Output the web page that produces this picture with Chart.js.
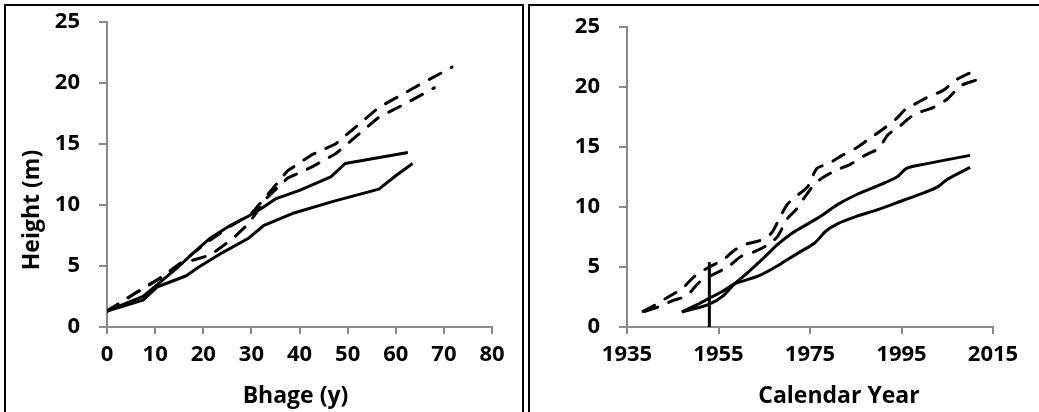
<!DOCTYPE html>
<html>
<head>
<meta charset="utf-8">
<script src="https://cdn.jsdelivr.net/npm/chart.js@4.4.1/dist/chart.umd.min.js"></script>
<style>
  body { margin: 0; background: #fff; width: 1039px; height: 412px; overflow: hidden; position: relative; }
  canvas { position: absolute; top: 0; }
  #bhageChart { left: 0; }
  #yearChart { left: 520px; }
  .frame { position: absolute; top: 4px; height: 440px; border: 2px solid #000; border-bottom: none; box-sizing: border-box; pointer-events: none; }
  #frameLeft { left: 4px; width: 520px; }
  #frameRight { left: 528px; width: 600px; }
</style>
</head>
<body>
<canvas id="bhageChart" width="520" height="412"></canvas>
<canvas id="yearChart" width="519" height="412"></canvas>
<div class="frame" id="frameLeft"></div>
<div class="frame" id="frameRight"></div>
<script>
// left panel: height against breast height age
const bhageSolidA  = [0, 3, 7.5, 10.5, 15, 18, 21.5, 25.5, 29, 32, 35, 40, 46.5, 49.5, 62.5];
const heightSolidA = [1.3, 1.8, 2.5, 3.5, 5.0, 6.1, 7.3, 8.3, 9.0, 9.7, 10.5, 11.2, 12.3, 13.4, 14.3];
const bhageSolidB  = [0, 7.5, 10.5, 16.5, 19, 24, 29.5, 32.5, 38.5, 47, 56.5, 60, 63.5];
const heightSolidB = [1.3, 2.2, 3.3, 4.2, 4.9, 6.1, 7.3, 8.3, 9.3, 10.3, 11.3, 12.4, 13.4];
const bhageDashA   = [0, 6, 11, 15.5, 21, 25, 30, 33.5, 37.5, 42.5, 47.5, 52, 56.5, 61.5, 66.5, 71.7];
const heightDashA  = [1.3, 2.8, 4.0, 5.3, 7.0, 8.1, 9.3, 10.9, 12.8, 14.1, 15.0, 16.5, 18.0, 19.1, 20.2, 21.3];
const bhageDashB   = [0, 6, 11, 15.5, 21.5, 26, 29.5, 33, 37.5, 42.5, 47.5, 52, 56.5, 61.5, 68];
const heightDashB  = [1.3, 2.8, 4.0, 5.2, 5.9, 7.2, 8.5, 10.5, 12.2, 13.1, 14.2, 15.7, 17.2, 18.2, 19.6];

// right panel: height against calendar year
const yearSolidA   = [1947, 1950, 1953, 1956, 1958.5, 1961, 1965, 1968, 1971, 1975, 1978, 1981, 1985, 1990, 1994, 1996, 1999, 2010];
const hYearSolidA  = [1.25, 1.55, 1.9, 2.6, 3.6, 4.4, 5.8, 6.9, 7.8, 8.7, 9.4, 10.2, 11.0, 11.8, 12.5, 13.2, 13.5, 14.3];
const yearSolidB   = [1947, 1950, 1953, 1956, 1958.5, 1961, 1964, 1967, 1970, 1973, 1976, 1978.5, 1981, 1985, 1990, 1995, 2000, 2003, 2005, 2010];
const hYearSolidB  = [1.25, 1.8, 2.4, 3.0, 3.6, 3.9, 4.3, 4.9, 5.6, 6.3, 7.0, 8.0, 8.6, 9.2, 9.8, 10.5, 11.2, 11.7, 12.3, 13.3];
const yearDashA    = [1938.5, 1941, 1944, 1947, 1950, 1953, 1956, 1958.5, 1961, 1964, 1966.5, 1968, 1970, 1972, 1974.5, 1976.5, 1979, 1982, 1985, 1988, 1991, 1994, 1996, 1998, 2001, 2004, 2007, 2009, 2011.5];
const hYearDashA   = [1.3, 1.8, 2.5, 3.2, 4.3, 5.0, 5.6, 6.4, 6.9, 7.2, 7.8, 8.8, 10.2, 10.9, 11.7, 13.2, 13.6, 14.3, 14.9, 15.7, 16.5, 17.4, 18.2, 18.6, 19.2, 19.7, 20.6, 21.0, 21.4];
const yearDashB    = [1939, 1942, 1945, 1948, 1951, 1954, 1957, 1960, 1963, 1966, 1968, 1970, 1972, 1974, 1976, 1978, 1981, 1984, 1987, 1990, 1992, 1994.5, 1997, 1999, 2002, 2005, 2008, 2011.5];
const hYearDashB   = [1.3, 1.7, 2.2, 2.6, 3.8, 4.4, 5.0, 5.9, 6.3, 6.9, 7.6, 9.0, 9.8, 10.9, 11.9, 12.5, 13.1, 13.6, 14.3, 14.9, 16.0, 16.7, 17.5, 17.9, 18.3, 19.0, 20.1, 20.6];

// vertical marker in the right panel
const markerYear   = [1953, 1953];
const markerHeight = [0, 5.4];

const heightTicks = [0, 5, 10, 15, 20, 25];

const pts = (xs, ys) => xs.map((x, i) => ({ x: x, y: ys[i] }));

function series(xs, ys, dashed, tension) {
  return {
    data: pts(xs, ys),
    borderColor: '#000',
    borderWidth: 3,
    borderDash: dashed ? [13, 12] : [],
    borderCapStyle: dashed ? 'round' : 'butt',
    borderJoinStyle: 'round',
    pointRadius: 0,
    fill: false,
    tension: tension
  };
}

const tickFont = { family: 'Open Sans', weight: 'bold', size: 22 };
const axisGray = '#8a8a8a';

function xScale(min, max, step) {
  return {
    type: 'linear', min: min, max: max,
    ticks: { stepSize: step, color: '#000', font: tickFont, padding: 8, callback: v => String(v), maxRotation: 0 },
    grid: { drawOnChartArea: false, drawTicks: true, tickLength: 7, color: axisGray, lineWidth: 2 },
    border: { color: axisGray, width: 2 },
    afterFit: s => { s.height = 85; s.paddingLeft = 0; s.paddingRight = 0; }
  };
}

function yScale() {
  return {
    type: 'linear', min: 0, max: 25,
    afterBuildTicks: s => { s.ticks = heightTicks.map(v => ({ value: v })); },
    ticks: { color: '#000', font: tickFont, padding: 19 },
    grid: { drawOnChartArea: false, drawTicks: true, tickLength: 8, color: axisGray, lineWidth: 2 },
    border: { color: axisGray, width: 2 },
    afterFit: s => { s.width = 107; s.paddingTop = 0; s.paddingBottom = 0; }
  };
}

const axisTitles = {
  id: 'axisTitles',
  afterDraw(chart, args, opts) {
    const ctx = chart.ctx;
    const area = chart.chartArea;
    ctx.save();
    ctx.fillStyle = '#000';
    ctx.font = 'bold 23px "Open Sans"';
    ctx.textAlign = 'center';
    ctx.textBaseline = 'alphabetic';
    ctx.fillText(opts.xText, (area.left + area.right) / 2 + opts.xShift, opts.xBase);
    if (opts.yText) {
      ctx.translate(opts.yBase, opts.yMid);
      ctx.rotate(-Math.PI / 2);
      ctx.fillText(opts.yText, 0, 0);
    }
    ctx.restore();
  }
};

Chart.defaults.animation = false;

new Chart(document.getElementById('bhageChart'), {
  type: 'line',
  data: {
    datasets: [
      series(bhageSolidA, heightSolidA, false, 0),
      series(bhageSolidB, heightSolidB, false, 0),
      series(bhageDashA, heightDashA, true, 0),
      series(bhageDashB, heightDashB, true, 0)
    ]
  },
  options: {
    responsive: false,
    layout: { padding: { left: 0, right: 28, top: 22, bottom: 0 } },
    plugins: {
      legend: { display: false },
      tooltip: { enabled: false },
      axisTitles: { xText: 'Bhage (y)', xShift: -4, xBase: 403, yText: 'Height (m)', yBase: 39, yMid: 210 }
    },
    scales: { x: xScale(0, 80, 10), y: yScale() }
  },
  plugins: [axisTitles]
});

new Chart(document.getElementById('yearChart'), {
  type: 'line',
  data: {
    datasets: [
      series(yearSolidA, hYearSolidA, false, 0.3),
      series(yearSolidB, hYearSolidB, false, 0.3),
      series(yearDashA, hYearDashA, true, 0.3),
      series(yearDashB, hYearDashB, true, 0.3),
      series(markerYear, markerHeight, false, 0)
    ]
  },
  options: {
    responsive: false,
    layout: { padding: { left: 0, right: 46, top: 27, bottom: 0 } },
    plugins: {
      legend: { display: false },
      tooltip: { enabled: false },
      axisTitles: { xText: 'Calendar Year', xShift: 29, xBase: 403 }
    },
    scales: { x: xScale(1935, 2015, 20), y: yScale() }
  },
  plugins: [axisTitles]
});
</script>
</body>
</html>
